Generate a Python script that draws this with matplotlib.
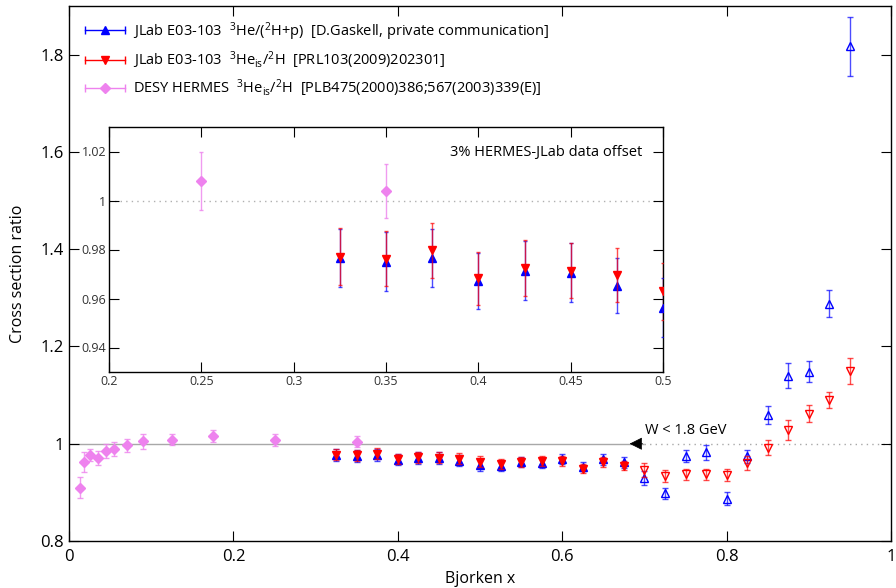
import matplotlib
matplotlib.use("Agg")
import matplotlib.pyplot as plt
import numpy as np
from matplotlib.lines import Line2D
from matplotlib.legend_handler import HandlerLine2D, HandlerTuple

plt.rcParams['font.family'] = ['Open Sans', 'DejaVu Sans']
plt.rcParams['mathtext.fontset'] = 'custom'
plt.rcParams['mathtext.rm'] = 'Open Sans'
plt.rcParams['mathtext.it'] = 'Open Sans:italic'

# JLab E03-103, same x bins for both ratios
x_jlab = [0.325, 0.35, 0.375, 0.4, 0.425, 0.45, 0.475, 0.5, 0.525, 0.55,
          0.575, 0.6, 0.625, 0.65, 0.675, 0.7, 0.725, 0.75, 0.775, 0.8,
          0.825, 0.85, 0.875, 0.9, 0.925, 0.95]
# 3He/(2H+p), D.Gaskell
r_gaskell = [0.9765, 0.9751, 0.9765, 0.9671, 0.9714, 0.9706, 0.9652, 0.9563,
             0.954, 0.962, 0.960, 0.968, 0.953, 0.968, 0.962, 0.929, 0.898,
             0.975, 0.982, 0.887, 0.974, 1.059, 1.140, 1.148, 1.288, 1.817]
e_gaskell = [0.012, 0.0122, 0.012, 0.0114, 0.0121, 0.012, 0.0112, 0.012,
             0.010, 0.010, 0.010, 0.010, 0.010, 0.011, 0.011, 0.014, 0.011,
             0.013, 0.015, 0.014, 0.013, 0.018, 0.026, 0.022, 0.028, 0.061]
# 3He_is/2H, PRL103(2009)202301
r_prl = [0.9771, 0.9762, 0.9796, 0.9682, 0.9725, 0.9713, 0.9695, 0.9629,
         0.958, 0.962, 0.964, 0.965, 0.949, 0.962, 0.955, 0.946, 0.934,
         0.937, 0.937, 0.936, 0.961, 0.992, 1.028, 1.062, 1.090, 1.150]
e_prl = [0.0115, 0.0113, 0.0113, 0.0107, 0.0113, 0.0112, 0.011, 0.0116,
         0.010, 0.010, 0.010, 0.010, 0.010, 0.010, 0.010, 0.015, 0.012,
         0.012, 0.012, 0.012, 0.014, 0.015, 0.020, 0.018, 0.017, 0.027]

# DESY HERMES 3He_is/2H
x_hermes = [0.013, 0.018, 0.025, 0.035, 0.045, 0.055, 0.070, 0.090, 0.125, 0.175, 0.25, 0.35]
r_hermes = [0.910, 0.962, 0.977, 0.971, 0.985, 0.989, 0.997, 1.005, 1.008, 1.016, 1.008, 1.004]
e_hermes = [0.022, 0.021, 0.013, 0.015, 0.015, 0.015, 0.013, 0.015, 0.011, 0.012, 0.012, 0.011]

W_CUT = 0.69  # x above this is W < 1.8 GeV -> open symbols

BLUE = '#0000ff'
RED = '#ff0000'
VIOLET = '#ee82ee'

x_jlab = np.array(x_jlab)
r_gaskell, e_gaskell = np.array(r_gaskell), np.array(e_gaskell)
r_prl, e_prl = np.array(r_prl), np.array(e_prl)
lo = x_jlab < W_CUT
hi = ~lo


def draw_points(ax, cap, ms, ms_d):
    ax.errorbar(x_hermes, r_hermes, yerr=e_hermes, fmt='D', color=VIOLET, ms=ms_d,
                ecolor=(0.93, 0.51, 0.93, 0.8), elinewidth=1, capsize=cap, zorder=3)
    ax.errorbar(x_jlab[lo], r_gaskell[lo], yerr=e_gaskell[lo], fmt='^', color=BLUE, ms=ms,
                ecolor=(0, 0, 1, 0.7), elinewidth=1, capsize=cap, zorder=3)
    ax.errorbar(x_jlab[lo], r_prl[lo], yerr=e_prl[lo], fmt='v', color=RED, ms=ms,
                ecolor=(1, 0, 0, 0.7), elinewidth=1, capsize=cap, zorder=4)
    ax.errorbar(x_jlab[hi], r_gaskell[hi], yerr=e_gaskell[hi], fmt='^', color=BLUE, ms=ms,
                mfc='none', mew=1, ecolor=(0, 0, 1, 0.7), elinewidth=1, capsize=cap, zorder=3)
    ax.errorbar(x_jlab[hi], r_prl[hi], yerr=e_prl[hi], fmt='v', color=RED, ms=ms,
                mfc='none', mew=1, ecolor=(1, 0, 0, 0.7), elinewidth=1, capsize=cap, zorder=4)


fig = plt.figure(figsize=(8.96, 5.88), dpi=100)
ax = fig.add_axes([69 / 896, 47 / 588, 822 / 896, 535 / 588])

draw_points(ax, 2, 6, 5)
ax.hlines(1, 0, 0.7, color='#a8a8a8', lw=1, zorder=1)
ax.hlines(1, 0.7, 1, color='#a8a8a8', lw=1, linestyles=(0, (1, 3)), zorder=1)
ax.annotate('', xy=(0.682, 1), xytext=(0.698, 1),
            arrowprops=dict(arrowstyle='-|>', color='black', lw=0.5, mutation_scale=20,
                            shrinkA=0, shrinkB=0))
ax.text(0.701, 1.028, 'W < 1.8 GeV', fontsize=10.5, va='center', ha='left')

ax.set_xlim(0, 1)
ax.set_ylim(0.8, 1.9)
ax.set_xticks([0, 0.2, 0.4, 0.6, 0.8, 1])
ax.set_xticklabels(['0', '0.2', '0.4', '0.6', '0.8', '1'])
ax.set_yticks([0.8, 1, 1.2, 1.4, 1.6, 1.8])
ax.set_yticklabels(['0.8', '1', '1.2', '1.4', '1.6', '1.8'])
ax.tick_params(direction='in', top=True, right=True, length=7, width=0.8,
               labelsize=12, pad=6)
ax.tick_params(axis='y', pad=4)
ax.set_xlabel('Bjorken x', fontsize=11.5, labelpad=4)
ax.set_ylabel('Cross section ratio', fontsize=11.5, labelpad=10)
for s in ax.spines.values():
    s.set_linewidth(1.0)

# legend: gnuplot-style errorbar sample (line with end caps) + marker
handles = []
hmap = {}
for c, m in [(BLUE, '^'), (RED, 'v'), (VIOLET, 'D')]:
    capline = Line2D([], [], color=c, lw=1, marker='|', ms=6, mew=1)
    mk = Line2D([], [], color=c, ls='none', marker=m, ms=6 if m != 'D' else 5)
    hmap[capline] = HandlerLine2D(numpoints=2, marker_pad=0)
    hmap[mk] = HandlerLine2D(numpoints=1)
    handles.append((capline, mk))
hmap[tuple] = HandlerTuple(ndivide=1, pad=0)
labels = [
    r'JLab E03-103  $^{3}$He/($^{2}$H+p)  [D.Gaskell, private communication]',
    r'JLab E03-103  $^{3}$He$_{\mathrm{is}}$/$^{2}$H  [PRL103(2009)202301]',
    r'DESY HERMES  $^{3}$He$_{\mathrm{is}}$/$^{2}$H  [PLB475(2000)386;567(2003)339(E)]',
]
ax.legend(handles, labels, handler_map=hmap, loc='upper left',
          bbox_to_anchor=(0.019, 0.974), frameon=False, fontsize=10.5,
          handlelength=2.8, handletextpad=0.5, labelspacing=0.45,
          borderpad=0, borderaxespad=0)

# inset
axi = fig.add_axes([109 / 896, (588 - 372) / 588, 554 / 896, 245 / 588])
axi.set_facecolor('white')
draw_points(axi, 1.5, 6, 5)
axi.axhline(1, color='#b0b0b0', lw=1, ls=(0, (1, 3)), zorder=1)
axi.text(0.489, 1.0195, '3% HERMES-JLab data offset', fontsize=10.5, ha='right', va='center')
axi.set_xlim(0.2, 0.5)
axi.set_ylim(0.93, 1.03)
axi.set_xticks([0.2, 0.25, 0.3, 0.35, 0.4, 0.45, 0.5])
axi.set_xticklabels(['0.2', '0.25', '0.3', '0.35', '0.4', '0.45', '0.5'])
axi.set_yticks([0.94, 0.96, 0.98, 1.0, 1.02])
axi.set_yticklabels(['0.94', '0.96', '0.98', '1', '1.02'])
axi.tick_params(direction='in', top=True, right=True, length=7, width=0.8,
                labelsize=9, pad=2, labelcolor='#333333')
for s in axi.spines.values():
    s.set_linewidth(1.0)

fig.savefig('out.png', dpi=100)
